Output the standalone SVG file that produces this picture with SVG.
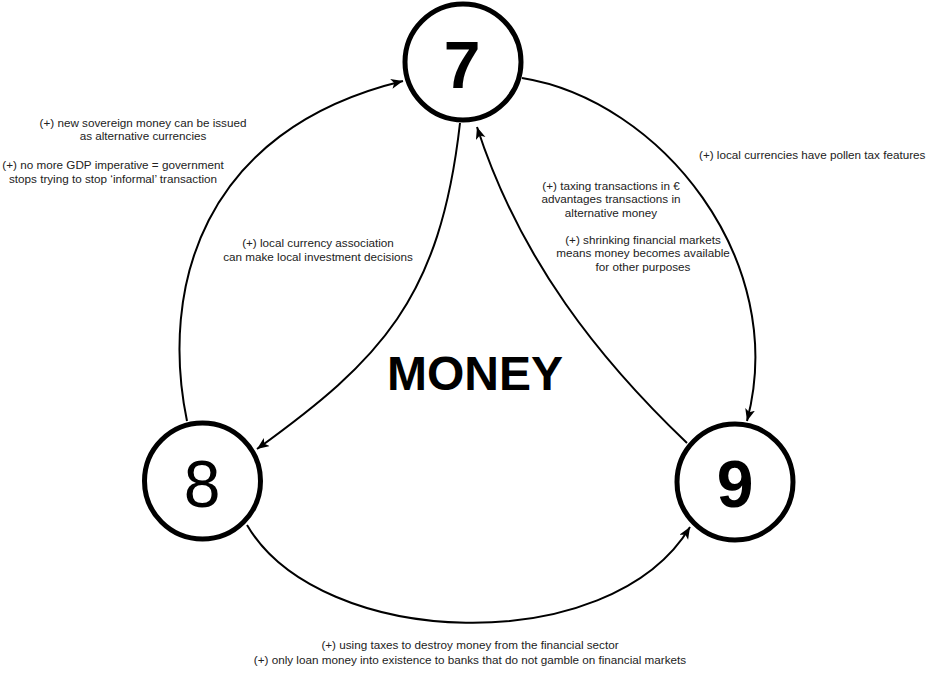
<svg xmlns="http://www.w3.org/2000/svg" width="926" height="680" viewBox="0 0 926 680">
<style>
.node{fill:#fff;stroke:#000;stroke-width:5}
.num{font-family:"Liberation Sans",Arial,sans-serif;font-size:66px;text-anchor:middle;fill:#000}
.b{font-weight:bold}
.edge{fill:none;stroke:#000;stroke-width:2;marker-end:url(#arr)}
.lbl{font-family:"Liberation Sans",Arial,sans-serif;font-size:11.7px;fill:#222;text-anchor:middle}
.title{font-family:"Liberation Sans",Arial,sans-serif;font-size:48px;font-weight:bold;text-anchor:middle;fill:#000}
</style>
<defs>
<marker id="arr" markerUnits="userSpaceOnUse" markerWidth="14" markerHeight="12" refX="12" refY="5" orient="auto">
<path d="M0,0 L12,5 L0,10 L3,5 z" fill="#000"/>
</marker>
</defs>
<rect width="926" height="680" fill="#fff"/>
<g id="connectors">
<path class="edge" d="M187,421 C160,290 200,130 403,81"/>
<path class="edge" d="M460,123 C440,300 380,360 257,449"/>
<path class="edge" d="M687,443 C600,360 520,260 477,127"/>
<path class="edge" d="M522,78 C660,100 790,260 747,421"/>
<path class="edge" d="M247,525 C320,650 610,660 690,527"/>
</g>
<g id="labels">
<text class="lbl" x="143" y="127">(+) new sovereign money can be issued</text>
<text class="lbl" x="143" y="140">as alternative currencies</text>
<text class="lbl" x="113" y="169">(+) no more GDP imperative = government</text>
<text class="lbl" x="113" y="183">stops trying to stop ‘informal’ transaction</text>
<text class="lbl" x="318" y="247">(+) local currency association</text>
<text class="lbl" x="318" y="261">can make local investment decisions</text>
<text class="lbl" x="699" y="159" style="text-anchor:start">(+) local currencies have pollen tax features</text>
<text class="lbl" x="611" y="190">(+) taxing transactions in €</text>
<text class="lbl" x="611" y="203">advantages transactions in</text>
<text class="lbl" x="611" y="217">alternative money</text>
<text class="lbl" x="643" y="244">(+) shrinking financial markets</text>
<text class="lbl" x="643" y="257">means money becomes available</text>
<text class="lbl" x="643" y="271">for other purposes</text>
<text class="lbl" x="470" y="649">(+) using taxes to destroy money from the financial sector</text>
<text class="lbl" x="470" y="664">(+) only loan money into existence to banks that do not gamble on financial markets</text>
</g>
<text class="title" x="475" y="390">MONEY</text>
<g id="node7">
<circle class="node" cx="463" cy="62" r="58"/>
<text class="num b" x="462" y="88">7</text>
</g>
<g id="node8">
<circle class="node" cx="202.5" cy="481" r="58"/>
<text class="num" x="202" y="507">8</text>
</g>
<g id="node9">
<circle class="node" cx="735" cy="482" r="58"/>
<text class="num b" x="735" y="507">9</text>
</g>
</svg>
